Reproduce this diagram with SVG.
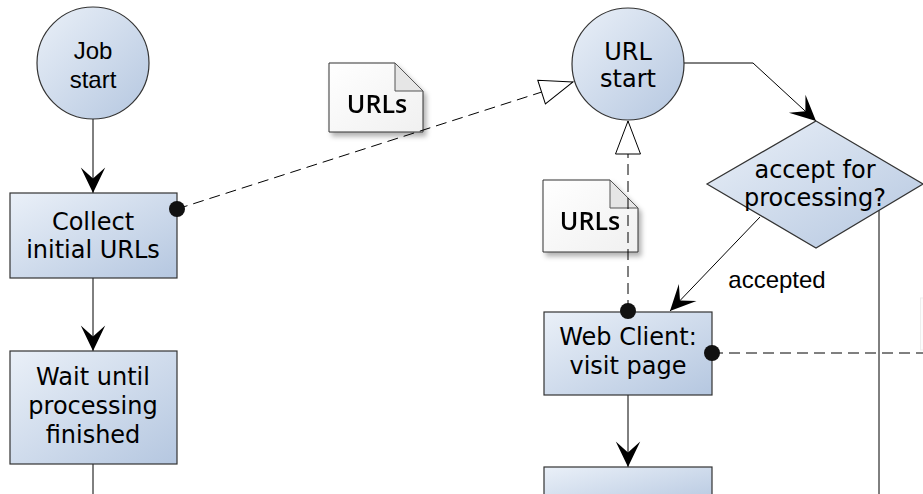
<svg xmlns="http://www.w3.org/2000/svg" width="923" height="494" viewBox="0 0 923 494">
  <defs>
    <linearGradient id="nodeFill" x1="0" y1="0" x2="1" y2="1">
      <stop offset="0" stop-color="#eaf0f8"/>
      <stop offset="1" stop-color="#b5c7e0"/>
    </linearGradient>
    <linearGradient id="noteFill" x1="0" y1="0" x2="1" y2="1">
      <stop offset="0" stop-color="#ffffff"/>
      <stop offset="1" stop-color="#f0f0f0"/>
    </linearGradient>
    <filter id="noteShadow" x="-20%" y="-20%" width="150%" height="150%">
      <feDropShadow dx="3" dy="4" stdDeviation="2.5" flood-color="#000" flood-opacity="0.3"/>
    </filter>
    <marker id="arrow" markerUnits="userSpaceOnUse" markerWidth="30" markerHeight="30" viewBox="-25 -13 27 26" refX="0" refY="0" orient="auto">
      <path d="M0,0 L-23,-11 L-13,0 L-23,11 Z" fill="#000"/>
    </marker>
    <marker id="hollow" markerUnits="userSpaceOnUse" markerWidth="40" markerHeight="30" viewBox="-36 -15 38 30" refX="0" refY="0" orient="auto">
      <path d="M0,0 L-33,-12.5 L-33,12.5 Z" fill="#fff" stroke="#000" stroke-width="1"/>
    </marker>
  </defs>
  <style>
    .node { fill: url(#nodeFill); stroke: #333; stroke-width: 1.2; }
    .note { fill: url(#noteFill); stroke: #333; stroke-width: 1; }
    .fold { fill: #e6e6e6; stroke: #555; stroke-width: 1; }
    .edge { fill: none; stroke: #000; stroke-width: 1; }
    .dash { fill: none; stroke: #000; stroke-width: 1; stroke-dasharray: 11 6; }
    .dot { fill: #111; }
    .t { font-family: "DejaVu Sans", Verdana, sans-serif; font-size: 24px; fill: #000; text-anchor: middle; }
    .ta { font-family: "Liberation Sans", Arial, sans-serif; font-size: 24px; fill: #000; text-anchor: middle; }
    .tn { font-family: "Open Sans", "DejaVu Sans", sans-serif; font-size: 25px; font-weight: 600; fill: #000; text-anchor: middle; }
  </style>

  <!-- data notes (drawn below the connectors) -->
  <g id="note-urls-1" filter="url(#noteShadow)">
    <path class="note" d="M329,63 H395 L423,91 V132 H329 Z"/>
    <path class="fold" d="M395,63 V91 H423 Z"/>
    <text class="tn" x="377" y="113">URLs</text>
  </g>
  <g id="note-urls-2" filter="url(#noteShadow)">
    <path class="note" d="M543,180 H610 L638,208 V252 H543 Z"/>
    <path class="fold" d="M610,180 V208 H638 Z"/>
    <text class="tn" x="590" y="230">URLs</text>
  </g>
  <g id="note-edge-right">
    <rect x="920.5" y="298" width="20" height="52" fill="#fcfcfc" stroke="#ededed" stroke-width="1"/>
  </g>

  <!-- connectors -->
  <g id="connectors">
    <line class="edge" x1="93" y1="119" x2="93" y2="193" marker-end="url(#arrow)"/>
    <line class="edge" x1="93" y1="278" x2="93" y2="351" marker-end="url(#arrow)"/>
    <line class="edge" x1="93" y1="464" x2="93" y2="494"/>
    <line class="dash" x1="177" y1="209" x2="573" y2="82" marker-end="url(#hollow)"/>
    <polyline class="edge" points="684,63 753,63 816,121" marker-end="url(#arrow)"/>
    <line class="edge" x1="760" y1="217" x2="670" y2="311" marker-end="url(#arrow)"/>
    <line class="edge" x1="879" y1="210" x2="879" y2="494"/>
    <line class="dash" x1="628" y1="311" x2="628" y2="121" marker-end="url(#hollow)"/>
    <line class="dash" x1="712" y1="353" x2="923" y2="353"/>
    <line class="edge" x1="628" y1="395" x2="628" y2="467" marker-end="url(#arrow)"/>
    <text class="ta" x="777" y="288">accepted</text>
  </g>

  <!-- flow nodes -->
  <g id="job-start">
    <circle class="node" cx="93" cy="63" r="56"/>
    <text class="ta" x="93" y="59">Job</text>
    <text class="ta" x="93" y="88">start</text>
  </g>
  <g id="collect-initial-urls">
    <rect class="node" x="10" y="193" width="167" height="85"/>
    <text class="t" x="93" y="230">Collect</text>
    <text class="t" x="93" y="258">initial URLs</text>
    <circle class="dot" cx="177" cy="209" r="8"/>
  </g>
  <g id="wait-until-finished">
    <rect class="node" x="10" y="351" width="167" height="113"/>
    <text class="t" x="93" y="385">Wait until</text>
    <text class="t" x="93" y="414">processing</text>
    <text class="t" x="93" y="443">finished</text>
  </g>
  <g id="url-start">
    <circle class="node" cx="628" cy="64" r="56"/>
    <text class="t" x="628" y="60">URL</text>
    <text class="t" x="628" y="87">start</text>
  </g>
  <g id="accept-decision">
    <polygon class="node" points="816,121 923,184 816,248 707,184"/>
    <text class="t" x="815" y="178">accept for</text>
    <text class="t" x="815" y="206">processing?</text>
  </g>
  <g id="web-client-visit">
    <rect class="node" x="544" y="312" width="168" height="83"/>
    <text class="t" x="628" y="345">Web Client:</text>
    <text class="t" x="628" y="374">visit page</text>
    <circle class="dot" cx="628" cy="311" r="8"/>
    <circle class="dot" cx="712" cy="353" r="8"/>
  </g>
  <g id="next-step">
    <rect class="node" x="544" y="467" width="168" height="40"/>
  </g>
</svg>
